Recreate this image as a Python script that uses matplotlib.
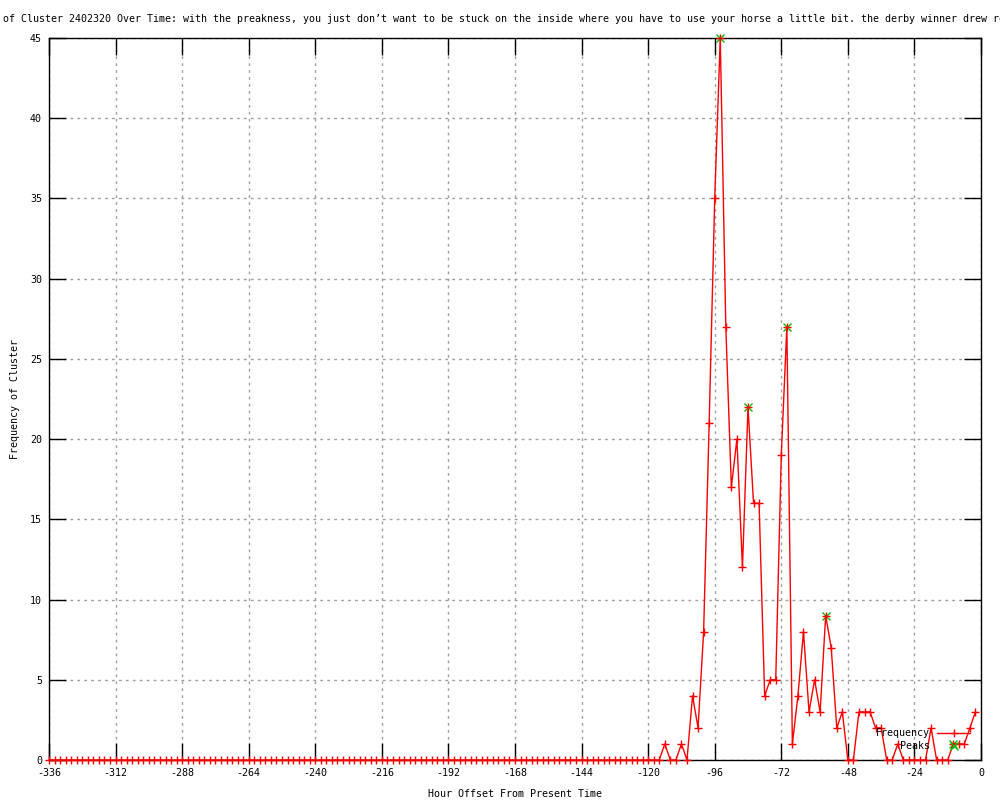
import numpy as np
import matplotlib
matplotlib.use('Agg')
import matplotlib.pyplot as plt
from matplotlib.lines import Line2D

plt.rcParams['font.family'] = ['DejaVu Sans Mono']
plt.rcParams['font.size'] = 7.2
plt.rcParams['axes.unicode_minus'] = False

# hour offsets, one reading every 2 hours
hours = np.arange(-336, 0, 2)
freq = [0] * 107 + [
    0, 0, 0, 0, 1, 0, 0, 1, 0, 4, 2, 8, 21, 35, 45, 27, 17, 20, 12, 22,
    16, 16, 4, 5, 5, 19, 27, 1, 4, 8, 3, 5, 3, 9, 7, 2, 3, 0, 0, 3,
    3, 3, 2, 2, 0, 0, 1, 0, 0, 0, 0, 0, 2, 0, 0, 0, 1, 1, 1, 2, 3]
peak_hours = [-94, -84, -70, -56, -10]
peak_vals = [45, 22, 27, 9, 1]

xticks = list(range(-336, 1, 24))
yticks = list(range(0, 46, 5))

fig = plt.figure(figsize=(10, 8), dpi=100)
ax = fig.add_axes([0.049, 0.05, 0.932, 0.9025])

ax.plot(peak_hours, peak_vals, linestyle='none', marker='x', color='#00c000',
        ms=6, mew=1, clip_on=False, zorder=3)
ax.plot(hours, freq, color='red', lw=1, marker='+', ms=6, mew=1,
        clip_on=False, zorder=4)

ax.set_xlim(-336, 0)
ax.set_ylim(0, 45)
ax.set_xticks(xticks)
ax.set_yticks(yticks)
ax.tick_params(direction='in', length=12, width=1, top=True, right=True,
               labelsize=7.2)
ax.tick_params(axis='x', pad=6)
ax.tick_params(axis='y', pad=5)
ax.grid(True, color='#a0a0a0', linestyle=(0, (2, 3)), lw=1)
for s in ax.spines.values():
    s.set_linewidth(1)

ax.set_xlabel('Hour Offset From Present Time', labelpad=8)
ax.set_ylabel('Frequency of Cluster', labelpad=7)

# long title, cut off at both edges of the picture like the original
title = ('Frequency of Cluster 2402320 Over Time: with the preakness, you just '
         'don\u2019t want to be stuck on the inside where you have to use your '
         'horse a little bit. the derby winner drew re')
fig.text(-57 / 1000, 1 - 19 / 800, title, ha='left', va='center', fontsize=7.2)

handles = [Line2D([], [], color='red', lw=1, marker='+', ms=6, mew=1),
           Line2D([], [], color='#00c000', ls='none', marker='x', ms=6, mew=1)]
ax.legend(handles, ['Frequency', 'Peaks'], frameon=False, markerfirst=False,
          loc='center right', bbox_to_anchor=(970 / 1000, 1 - 739.5 / 800),
          bbox_transform=fig.transFigure, borderpad=0, borderaxespad=0,
          handlelength=3.3, handletextpad=0.7, labelspacing=0.3,
          numpoints=1, fontsize=7.2)

fig.savefig('out.png', dpi=100)
